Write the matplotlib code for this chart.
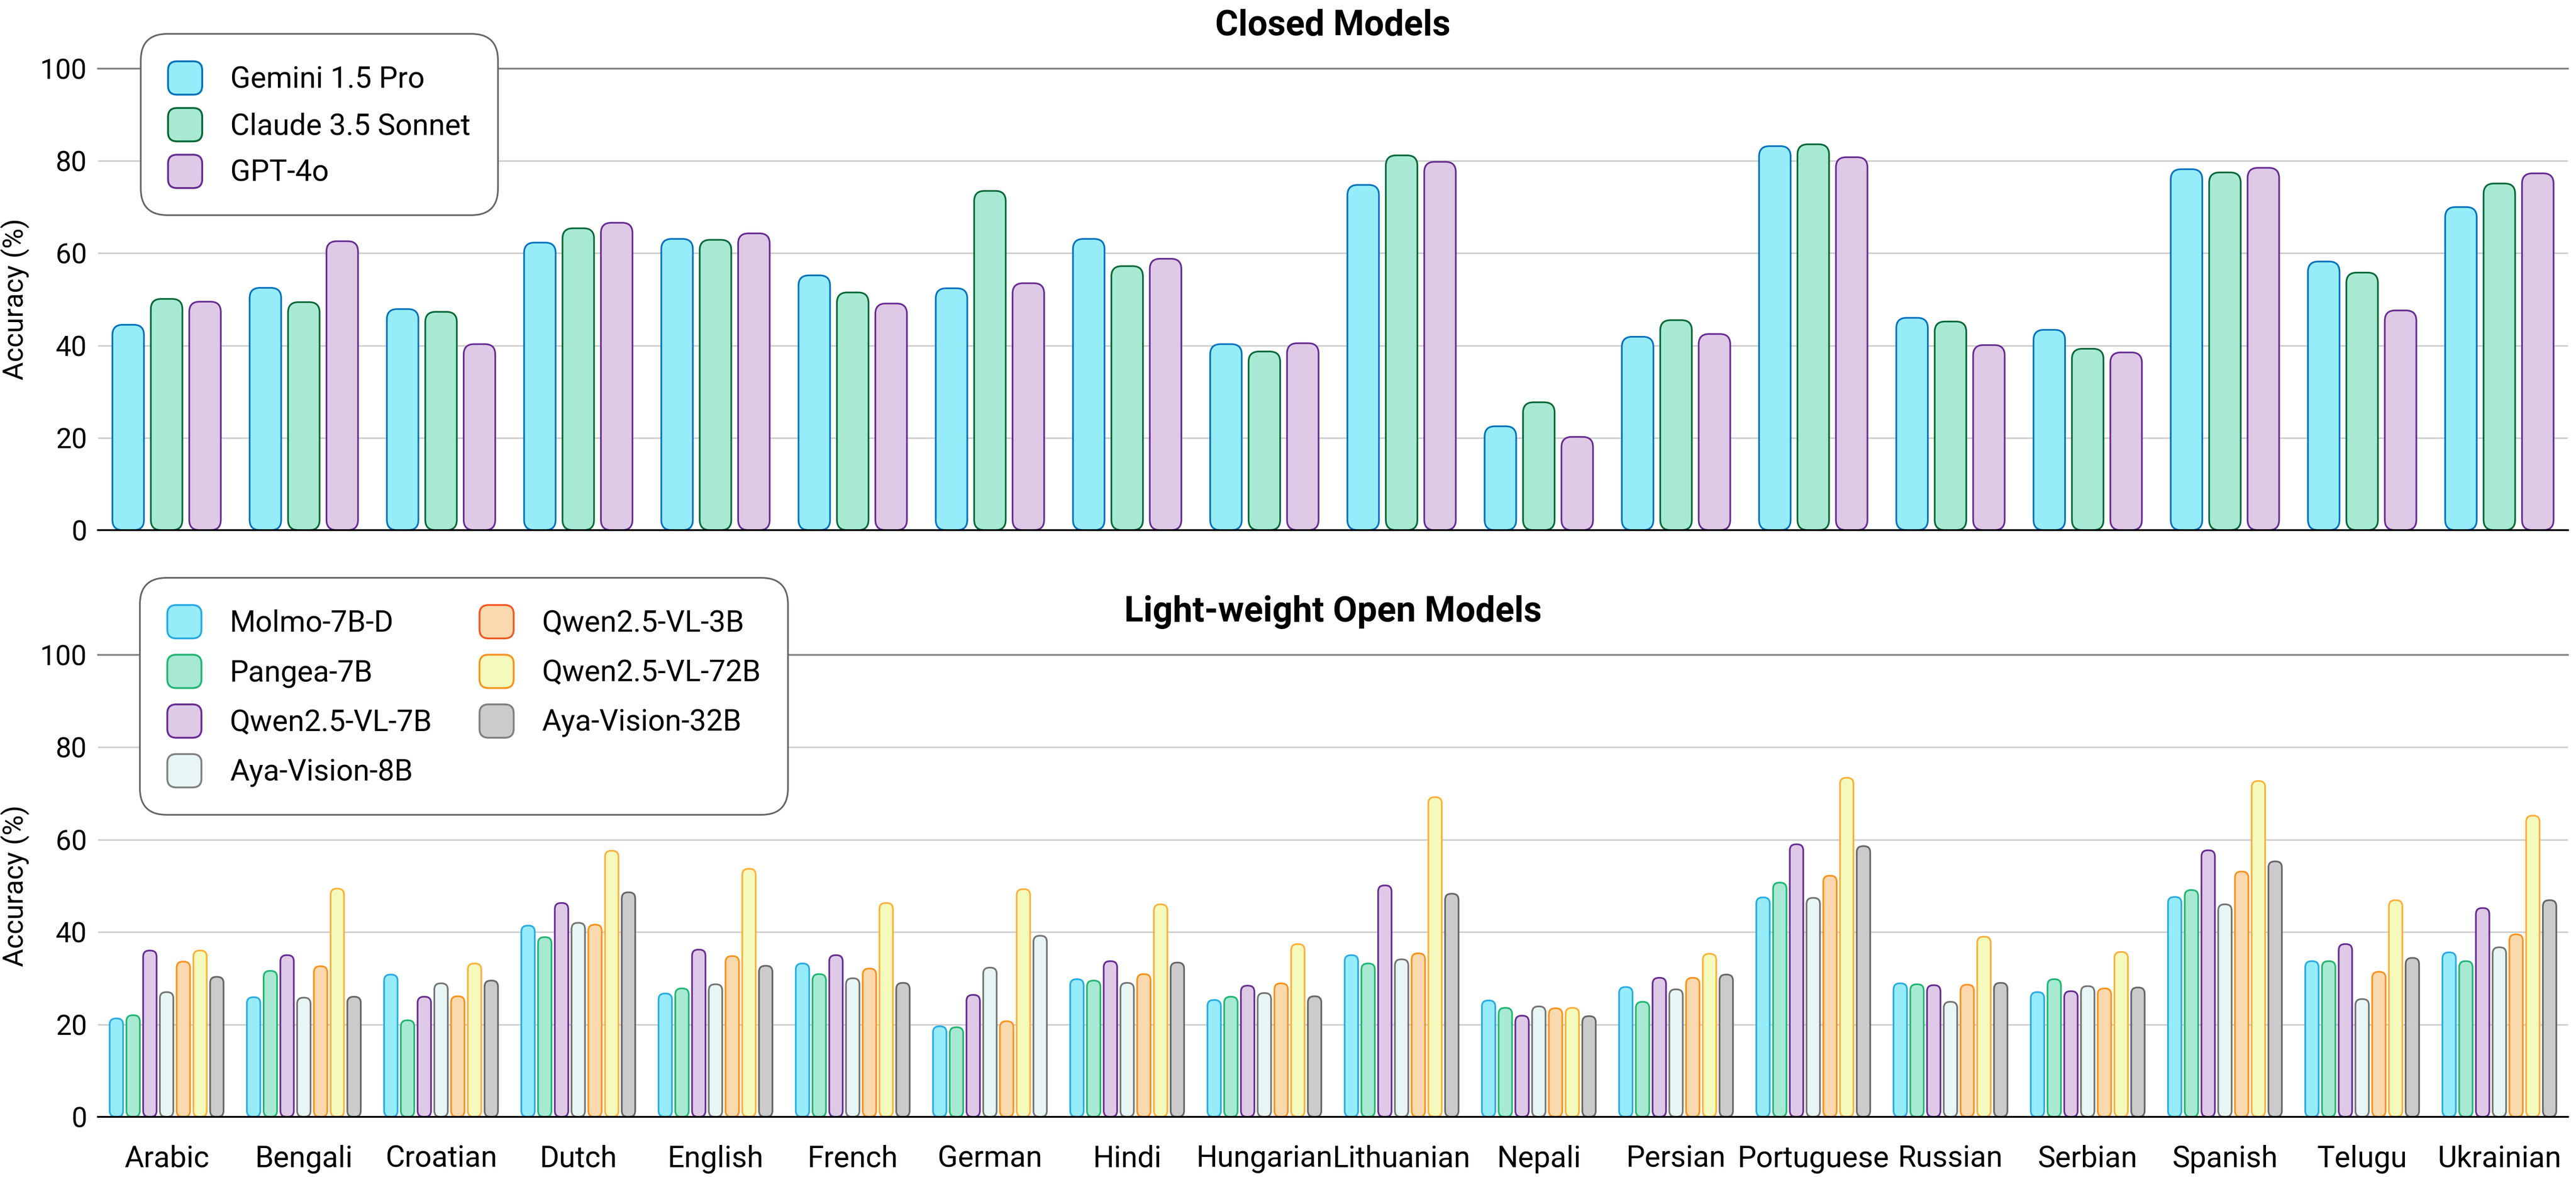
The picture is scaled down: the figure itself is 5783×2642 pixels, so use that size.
"""
Per-language accuracy of closed and light-weight open VLMs.
Two stacked grouped bar charts with rounded bars. Saves out.png.
"""

import matplotlib.pyplot as plt
import matplotlib.patches as mpatches
from matplotlib.legend_handler import HandlerPatch

plt.rcParams["font.family"] = ["Roboto", "DejaVu Sans"]

# ---- Data ----
languages = ["Arabic", "Bengali", "Croatian", "Dutch", "English", "French",
             "German", "Hindi", "Hungarian", "Lithuanian", "Nepali", "Persian",
             "Portuguese", "Russian", "Serbian", "Spanish", "Telugu", "Ukrainian"]

closed_models = ["Gemini 1.5 Pro", "Claude 3.5 Sonnet", "GPT-4o"]
gemini = [44.5, 52.5, 47.9, 62.3, 63.1, 55.2, 52.4, 63.1, 40.3,
          74.8, 22.5, 41.9, 83.2, 46.0, 43.4, 78.2, 58.2, 70.0]
claude = [50.1, 49.4, 47.3, 65.4, 62.9, 51.5, 73.5, 57.2, 38.7,
          81.2, 27.7, 45.5, 83.6, 45.2, 39.3, 77.5, 55.8, 75.1]
gpt4o = [49.5, 62.6, 40.3, 66.6, 64.3, 49.1, 53.5, 58.8, 40.5,
         79.8, 20.2, 42.5, 80.8, 40.1, 38.5, 78.5, 47.6, 77.3]

open_models = ["Molmo-7B-D", "Pangea-7B", "Qwen2.5-VL-7B", "Aya-Vision-8B",
               "Qwen2.5-VL-3B", "Qwen2.5-VL-72B", "Aya-Vision-32B"]
molmo = [21.3, 25.9, 30.8, 41.4, 26.7, 33.2, 19.6, 29.8, 25.3,
         35.0, 25.2, 28.1, 47.5, 28.9, 27.0, 47.6, 33.7, 35.6]
pangea = [22.0, 31.6, 20.9, 38.9, 27.8, 30.9, 19.4, 29.5, 26.0,
          33.2, 23.6, 24.9, 50.7, 28.7, 29.8, 49.1, 33.7, 33.7]
qwen7b = [36.0, 35.0, 26.0, 46.3, 36.2, 35.0, 26.4, 33.7, 28.4,
          50.1, 21.9, 30.1, 59.0, 28.5, 27.2, 57.7, 37.4, 45.2]
aya8b = [27.0, 25.8, 28.9, 42.0, 28.7, 30.0, 32.3, 29.0, 26.8,
         34.1, 23.9, 27.6, 47.4, 24.9, 28.3, 46.0, 25.5, 36.7]
qwen3b = [33.6, 32.6, 26.1, 41.6, 34.8, 32.1, 20.7, 30.9, 28.9,
          35.4, 23.5, 30.1, 52.2, 28.6, 27.8, 53.1, 31.4, 39.5]
qwen72b = [36.0, 49.4, 33.2, 57.6, 53.7, 46.3, 49.3, 46.0, 37.4,
           69.2, 23.6, 35.3, 73.4, 39.0, 35.7, 72.7, 46.9, 65.2]
aya32b = [30.3, 26.0, 29.5, 48.6, 32.7, 29.0, 39.2, 33.4, 26.1,
          48.3, 21.8, 30.8, 58.6, 29.0, 28.0, 55.3, 34.4, 46.9]

# ---- Styles: (face, bar edge, legend edge) ----
styles = {
    "Gemini 1.5 Pro":    ("#96ECF8", "#0071BC", "#0071BC"),
    "Claude 3.5 Sonnet": ("#A8E9D4", "#006837", "#006837"),
    "GPT-4o":            ("#DEC9E6", "#662D91", "#662D91"),
    "Molmo-7B-D":        ("#96ECF8", "#29ABE2", "#29ABE2"),
    "Pangea-7B":         ("#A8E9D4", "#22B573", "#22B573"),
    "Qwen2.5-VL-7B":     ("#DEC9E6", "#662D91", "#662D91"),
    "Aya-Vision-8B":     ("#E8F5F5", "#737373", "#808080"),
    "Qwen2.5-VL-3B":     ("#FBD9AE", "#F7931E", "#F15A24"),
    "Qwen2.5-VL-72B":    ("#F4F9BC", "#FBB03B", "#F7931E"),
    "Aya-Vision-32B":    ("#CBCBCB", "#666666", "#808080"),
}
# in the source figure the German Aya-Vision-32B bar is drawn in the 8B style
style_override = {("German", "Aya-Vision-32B"): "Aya-Vision-8B"}

W, H, DPI = 5783, 2642, 300
fig = plt.figure(figsize=(W / DPI, H / DPI), dpi=DPI)

ax_left, ax_right = 220, 5765
ax_top = fig.add_axes([ax_left / W, 1 - 1190 / H, (ax_right - ax_left) / W, 1036 / H])
ax_bot = fig.add_axes([ax_left / W, 1 - 2507 / H, (ax_right - ax_left) / W, 1037 / H])


def draw_groups(ax, names, series, width, step, radius):
    n = len(names)
    ax.set_xlim(-0.5, len(languages) - 0.5)
    ax.set_ylim(0, 100)
    bbox = ax.get_position()
    px_x = bbox.width * W / len(languages)
    px_y = bbox.height * H / 100
    aspect = px_x / px_y
    for k, (name, vals) in enumerate(zip(names, series)):
        offset = (k - (n - 1) / 2) * step
        for i, v in enumerate(vals):
            face, edge, _ = styles[style_override.get((languages[i], name), name)]
            ax.add_patch(mpatches.FancyBboxPatch(
                (i + offset - width / 2, 0), width, v,
                boxstyle=f"round,pad=0,rounding_size={radius}",
                mutation_aspect=aspect, facecolor=face, edgecolor=edge,
                linewidth=0.9, zorder=3))


def style_axes(ax, title):
    ax.set_axisbelow(True)
    ax.yaxis.grid(True, color="#cccccc", linewidth=0.8)
    ax.set_yticks([0, 20, 40, 60, 80, 100])
    for s in ("left", "right"):
        ax.spines[s].set_visible(False)
    ax.spines["top"].set_color("#808080")
    ax.spines["top"].set_linewidth(0.9)
    ax.spines["top"].set_zorder(4)
    ax.spines["bottom"].set_color("black")
    ax.spines["bottom"].set_linewidth(1.0)
    ax.spines["bottom"].set_zorder(4)
    ax.tick_params(axis="y", length=0, pad=6, labelsize=15)
    ax.tick_params(axis="x", length=0)
    ax.set_ylabel("Accuracy (%)", fontsize=15)
    ax.yaxis.set_label_coords(-0.0276, 0.5)
    ax.set_title(title, fontsize=19, fontweight="bold", pad=18)


def rounded_handle(legend, orig_handle, xdescent, ydescent, width, height, fontsize):
    return mpatches.FancyBboxPatch((-xdescent, -ydescent), width, height,
                                   boxstyle="round,pad=0,rounding_size=4.8")


def make_legend(ax, names, ncol, anchor, colspacing, labelspacing):
    handles = [mpatches.Patch(facecolor=styles[m][0], edgecolor=styles[m][2],
                              linewidth=1.0, label=m) for m in names]
    leg = ax.legend(handles=handles, ncol=ncol, loc="upper left",
                    bbox_to_anchor=anchor, borderaxespad=0, fontsize=16,
                    handlelength=1.15, handleheight=1.35, handletextpad=0.95,
                    labelspacing=labelspacing, borderpad=0.92, columnspacing=colspacing,
                    frameon=True, fancybox=True, framealpha=1,
                    handler_map={mpatches.Patch: HandlerPatch(patch_func=rounded_handle)})
    frame = leg.get_frame()
    frame.set_boxstyle("round,pad=0,rounding_size=0.9")
    frame.set_edgecolor("#666666")
    frame.set_linewidth(0.9)
    leg.set_zorder(10)
    return leg


# ---- Top: closed models ----
draw_groups(ax_top, closed_models, [gemini, claude, gpt4o], width=0.23, step=0.28, radius=0.075)
style_axes(ax_top, "Closed Models")
ax_top.set_xticks(range(len(languages)))
ax_top.tick_params(axis="x", labelbottom=False)
make_legend(ax_top, closed_models, 1, (0.0173, 1.075), 1.0, 0.45)

# ---- Bottom: light-weight open models ----
draw_groups(ax_bot, open_models, [molmo, pangea, qwen7b, aya8b, qwen3b, qwen72b, aya32b],
            width=0.098, step=0.122, radius=0.045)
style_axes(ax_bot, "Light-weight Open Models")
ax_bot.set_xticks(range(len(languages)))
ax_bot.set_xticklabels(languages, fontsize=16)
ax_bot.tick_params(axis="x", pad=15)
make_legend(ax_bot, open_models, 2, (0.0170, 1.167), 1.6, 0.55)

fig.savefig("out.png", dpi=DPI)
